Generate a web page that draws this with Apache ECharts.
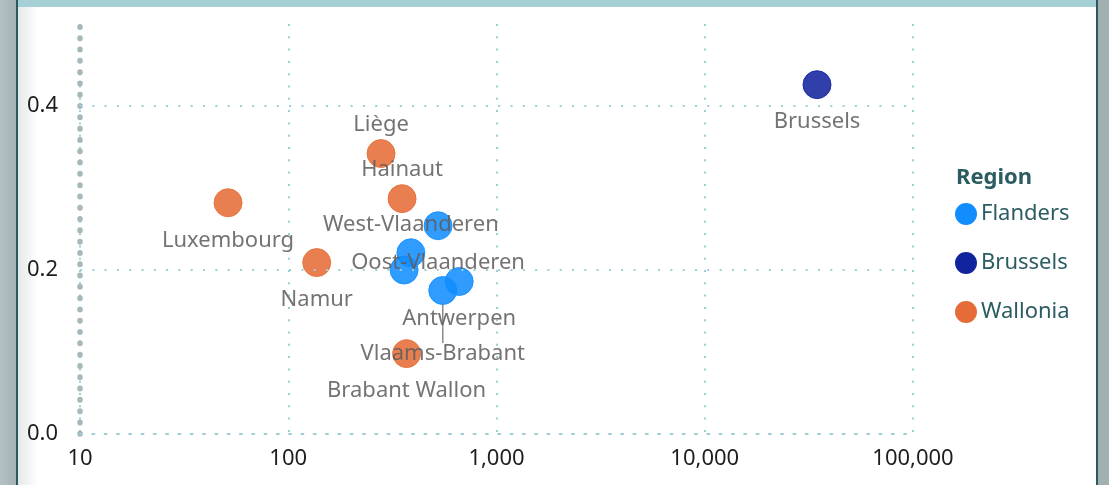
<!DOCTYPE html>
<html>
<head>
<meta charset="utf-8">
<script src="https://cdn.jsdelivr.net/npm/echarts@6/dist/echarts.min.js"></script>
<style>
  html, body { margin:0; padding:0; width:1109px; height:485px; overflow:hidden; background:#ffffff; }
  #leftPane { position:absolute; left:0; top:0; width:16px; height:485px; background:linear-gradient(to right,#b3c1c3,#a4b3b6); }
  #leftLine { position:absolute; left:16px; top:0; width:2px; height:485px; background:#2a5a60; }
  #shadow { position:absolute; left:18px; top:0; width:20px; height:485px; background:linear-gradient(to right,#e6e8e8,#ffffff); }
  #topBar { position:absolute; left:18px; top:0; width:1078px; height:7px; background:#a4d0d6; }
  #rightLine { position:absolute; left:1096px; top:0; width:2px; height:485px; background:#2a5a60; }
  #rightPane { position:absolute; left:1098px; top:0; width:11px; height:485px; background:#a3b0b2; }
  #chart { position:absolute; left:0; top:0; width:1109px; height:485px; }
</style>
</head>
<body>
<div id="leftPane"></div><div id="leftLine"></div><div id="shadow"></div>
<div id="topBar"></div><div id="rightLine"></div><div id="rightPane"></div>
<div id="chart"></div>
<script>
// ---- data ----
const regions = ['Flanders', 'Brussels', 'Wallonia'];

const flandersNames   = ['Antwerpen', 'Limburg', 'Oost-Vlaanderen', 'West-Vlaanderen', 'Vlaams-Brabant'];
const flandersDensity = [662, 360, 524, 388, 552];
const flandersRatio   = [0.186, 0.200, 0.254, 0.221, 0.175];

const brusselsNames   = ['Brussels'];
const brusselsDensity = [34600];
const brusselsRatio   = [0.426];

const walloniaNames   = ['Liège', 'Hainaut', 'Luxembourg', 'Namur', 'Brabant Wallon'];
const walloniaDensity = [279, 352, 51.4, 137, 370];
const walloniaRatio   = [0.342, 0.287, 0.282, 0.209, 0.098];

const xTicks = [10, 100, 1000, 10000, 100000];
const xTickLabels = ['10', '100', '1,000', '10,000', '100,000'];
const yTicks = [0, 0.2, 0.4];
const yTickLabels = ['0.0', '0.2', '0.4'];

// ---- style / label placement (not data) ----
const colors = { Flanders: '#118DFF', Brussels: '#12239E', Wallonia: '#E66C37' };
const labelPlacement = {
  'Brussels': 'bottom', 'Liège': 'top', 'Hainaut': 'top', 'Luxembourg': 'bottom',
  'Namur': 'bottom', 'West-Vlaanderen': 'top', 'Oost-Vlaanderen': 'bottom',
  'Limburg': 'none', 'Antwerpen': 'bottom', 'Vlaams-Brabant': 'leader', 'Brabant Wallon': 'bottom'
};
const FONT = "'Segoe UI', 'Noto Sans', sans-serif";

function buildData(names, xs, ys) {
  return names.map(function (n, i) {
    const p = labelPlacement[n];
    const item = { name: n, value: [xs[i], ys[i]] };
    if (p === 'none') {
      item.label = { show: false };
    } else if (p === 'top') {
      item.label = { position: 'top', distance: 3 };
    } else if (p === 'leader') {
      item.label = { position: 'bottom', distance: 13 };
      item.labelLine = { show: true, lineStyle: { color: '#8a8a8a', width: 1.5 } };
    } else {
      item.label = { position: 'bottom', distance: 12 };
    }
    return item;
  });
}

function makeSeries(region, names, xs, ys) {
  return {
    name: region,
    type: 'scatter',
    symbol: 'circle',
    symbolSize: 28,
    z: 3,
    itemStyle: { color: colors[region], opacity: 0.87, borderColor: colors[region], borderWidth: 1 },
    label: { show: true, formatter: '{b}', color: '#605e5c', fontSize: 22, fontFamily: FONT },
    labelLayout: function (params) {
      if (params.text === 'Vlaams-Brabant') return { dy: 25 };
      return {};
    },
    emphasis: { disabled: true },
    data: buildData(names, xs, ys)
  };
}

const chart = echarts.init(document.getElementById('chart'), null, { renderer: 'canvas' });

const dotGrid = { color: '#9ccfd3', width: 2, type: [2, 10.3] };

chart.setOption({
  animation: false,
  backgroundColor: 'transparent',
  textStyle: { fontFamily: FONT },
  title: {
    text: 'Region', left: 951, top: 162,
    textStyle: { fontFamily: FONT, fontSize: 22, fontWeight: 'bold', color: '#2b5c62' }
  },
  legend: {
    orient: 'vertical', left: 950, top: 198,
    icon: 'circle', itemWidth: 20, itemHeight: 20, itemGap: 27,
    itemStyle: { opacity: 1 },
    textStyle: { fontFamily: FONT, fontSize: 22, color: '#2b5c62', lineHeight: 20, padding: [0, 0, 0, 0] },
    data: regions
  },
  grid: { left: 80, right: 196, top: 24, bottom: 51, containLabel: false },
  xAxis: {
    type: 'log', logBase: 10, min: xTicks[0], max: xTicks[xTicks.length - 1],
    axisLine: { show: true, lineStyle: dotGrid },
    axisTick: { show: false },
    splitLine: { show: true, lineStyle: dotGrid },
    axisLabel: {
      color: '#1f1e1d', fontSize: 22, fontFamily: FONT, margin: 14,
      formatter: function (v) {
        const i = xTicks.findIndex(function (t) { return Math.abs(t - v) / t < 1e-6; });
        return i >= 0 ? xTickLabels[i] : '';
      }
    }
  },
  yAxis: {
    type: 'value', min: 0, max: 0.5, interval: 0.2,
    axisLine: { show: true, lineStyle: { color: '#a6b8bc', width: 5.5, type: [0.5, 10.8], cap: 'round' } },
    axisTick: { show: false },
    splitLine: { show: false },
    axisLabel: {
      color: '#1f1e1d', fontSize: 22, fontFamily: FONT, margin: 22,
      formatter: function (v) {
        const i = yTicks.findIndex(function (t) { return Math.abs(t - v) < 1e-9; });
        return i >= 0 ? yTickLabels[i] : '';
      }
    }
  },
  series: [
    {
      type: 'scatter', data: [], silent: true, z: 1,
      markLine: {
        silent: true, symbol: ['none', 'none'], label: { show: false },
        lineStyle: dotGrid, animation: false,
        data: yTicks.filter(function (t) { return t > 0; }).map(function (t) { return { yAxis: t }; })
      }
    },
    makeSeries('Flanders', flandersNames, flandersDensity, flandersRatio),
    makeSeries('Brussels', brusselsNames, brusselsDensity, brusselsRatio),
    makeSeries('Wallonia', walloniaNames, walloniaDensity, walloniaRatio)
  ]
});
</script>
</body>
</html>
